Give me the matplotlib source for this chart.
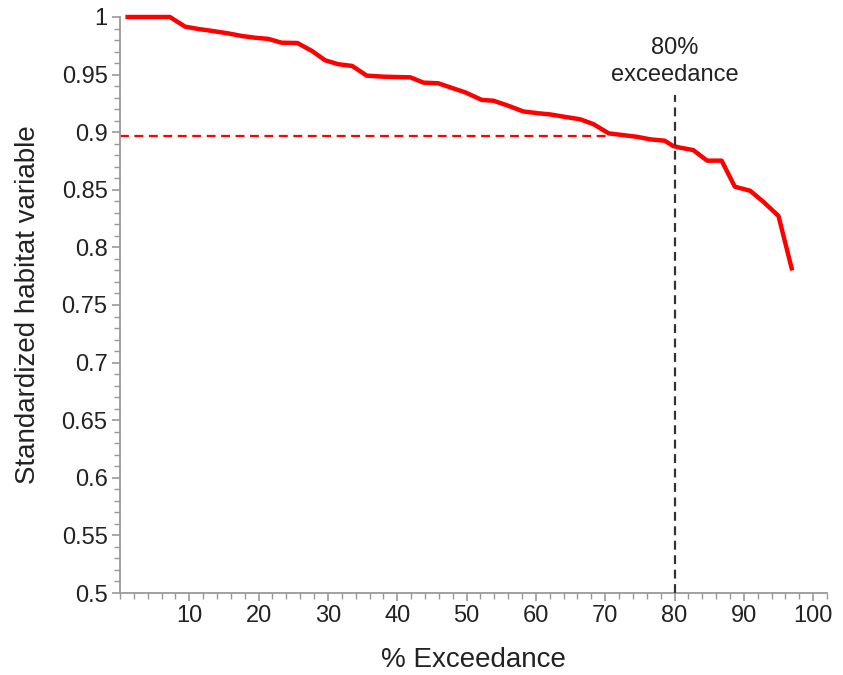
import matplotlib.pyplot as plt
from matplotlib.ticker import MultipleLocator

# exceedance curve
exceedance = [1.1, 7.2, 9.4, 11.3, 13.2, 15.6, 17.6, 19.5, 21.4, 23.3, 25.6, 27.7,
              29.6, 31.5, 33.5, 35.6, 38.0, 41.9, 43.8, 45.9, 47.6, 49.8, 52.2, 53.9,
              56.0, 58.2, 60.4, 62.0, 64.0, 66.4, 68.3, 70.5, 74.6, 76.5, 78.6, 79.8,
              80.8, 82.7, 84.7, 86.8, 88.7, 90.9, 92.8, 95.0, 96.9]
habitat = [1.0, 1.0, 0.9916, 0.9896, 0.988, 0.9858, 0.9835, 0.982, 0.981, 0.9777,
           0.9774, 0.9705, 0.9624, 0.959, 0.9575, 0.9491, 0.9482, 0.9476, 0.943,
           0.9425, 0.939, 0.9346, 0.928, 0.9273, 0.923, 0.918, 0.9164, 0.9155,
           0.9135, 0.9112, 0.907, 0.899, 0.896, 0.8938, 0.8926, 0.888, 0.8866,
           0.8845, 0.8753, 0.8753, 0.8527, 0.8492, 0.8397, 0.8273, 0.7819]

threshold_pct = 80
threshold_val = 0.897
cross_pct = 70.7

plt.rcParams['font.family'] = ['Liberation Sans', 'DejaVu Sans']

fig = plt.figure(figsize=(8.43, 6.75), dpi=100)
ax = fig.add_axes([120 / 843, 82 / 675, 707 / 843, 576 / 675])

ax.plot(exceedance, habitat, color='#ff0000', lw=3.2, clip_on=False, zorder=3,
        solid_joinstyle='round')
ax.plot([0, cross_pct], [threshold_val, threshold_val], color='#ff0000', lw=1.6,
        ls=(0, (4, 2.5)), zorder=2)
ax.plot([threshold_pct, threshold_pct], [0.5, 0.932], color='#333333', lw=1.6,
        ls=(0, (4, 2.5)), zorder=4)
ax.text(threshold_pct, 0.9615, '80%\nexceedance', ha='center', va='center',
        fontsize=17, color='#222222', linespacing=1.3)

ax.set_xlim(0, 102)
ax.set_ylim(0.5, 1.0)
ax.xaxis.set_minor_locator(MultipleLocator(2))
ax.yaxis.set_minor_locator(MultipleLocator(0.01))
ax.set_xticks([10, 20, 30, 40, 50, 60, 70, 80, 90, 100])
ax.set_xticklabels(['10', '20', '30', '40', '50', '60', '70', '80', '90', '100'])
ax.set_yticks([0.5, 0.55, 0.6, 0.65, 0.7, 0.75, 0.8, 0.85, 0.9, 0.95, 1.0])
ax.set_yticklabels(['0.5', '0.55', '0.6', '0.65', '0.7', '0.75', '0.8', '0.85',
                    '0.9', '0.95', '1'])

for s in ['top', 'right']:
    ax.spines[s].set_visible(False)
for s in ['left', 'bottom']:
    ax.spines[s].set_color('#999999')
    ax.spines[s].set_linewidth(1.3)

ax.tick_params(which='major', length=6, width=1.2, color='#999999',
               labelsize=17, labelcolor='#222222', pad=3)
ax.tick_params(which='minor', length=4, width=1.0, color='#999999')

ax.set_xlabel('% Exceedance', fontsize=20, color='#222222')
ax.set_ylabel('Standardized habitat variable', fontsize=20, color='#222222')
ax.xaxis.set_label_coords(0.5, -0.093)
ax.yaxis.set_label_coords(-0.112, 0.5)

fig.savefig('out.png', dpi=100)
